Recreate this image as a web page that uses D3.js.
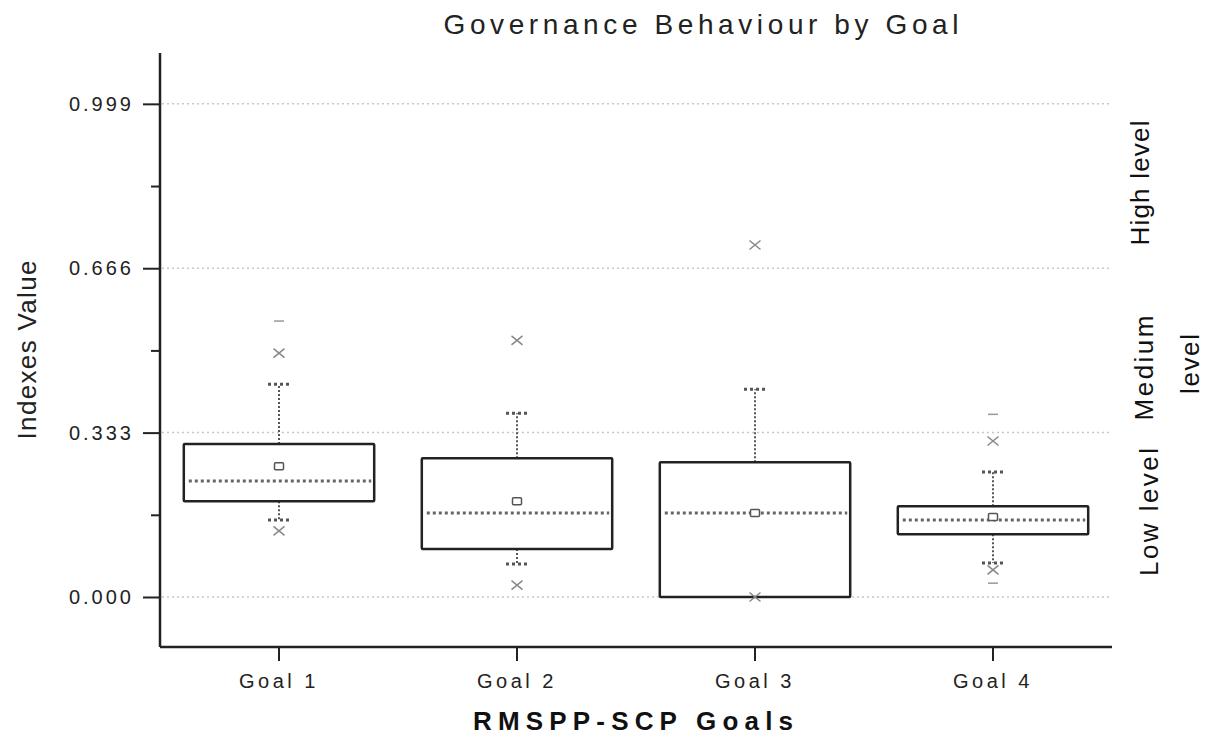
<!DOCTYPE html>
<html>
<head>
<meta charset="utf-8">
<script src="https://cdn.jsdelivr.net/npm/d3@7"></script>
<style>
body{margin:0;background:#fff;}
text{font-family:"Liberation Sans",Arial,sans-serif;}
</style>
</head>
<body>
<div id="chart"></div>
<script>
// donnees
var goals = ["Goal 1","Goal 2","Goal 3","Goal 4"];
var q1 = [0.194, 0.097, 0.000, 0.127];
var median = [0.235, 0.170, 0.170, 0.156];
var q3 = [0.310, 0.281, 0.273, 0.184];
var mean = [0.265, 0.194, 0.170, 0.162];
var whiskLow = [0.156, 0.067, 0.000, 0.069];
var whiskHigh = [0.431, 0.372, 0.421, 0.253];
var p1 = [0.134, 0.024, 0.000, 0.055];
var p99 = [0.494, 0.520, 0.713, 0.316];
var minV = [null, null, null, 0.028];
var maxV = [0.559, null, null, 0.370];
var yTicks = [0, 0.333, 0.666, 0.999];
var yMinor = [0.1665, 0.4995, 0.8325];
var levels = ["High level", "Medium", "level", "Low level"];

var width=1206, height=738;
var svg = d3.select("#chart").append("svg").attr("width",width).attr("height",height);

var x = d3.scaleBand().domain(goals).range([160,1112]).paddingInner(0.2).paddingOuter(0.1);
var y = d3.scaleLinear().domain([-0.1013,1.102]).range([647,53]);
var bw = x.bandwidth();
var cx = function(i){ return x(goals[i])+bw/2; };

// lignes de grille pointillees
svg.append("g").selectAll("line").data(yTicks).enter().append("line")
  .attr("x1",162).attr("x2",1112)
  .attr("y1",function(d){return y(d);}).attr("y2",function(d){return y(d);})
  .attr("stroke","#c8c8c8").attr("stroke-width",1.5).attr("stroke-dasharray","2,3");

// axe y
var yAxis = svg.append("g").attr("transform","translate(160,0)")
  .call(d3.axisLeft(y).tickValues(yTicks).tickFormat(d3.format(".3f")).tickSize(17).tickPadding(9));
svg.append("g").attr("transform","translate(160,0)")
  .call(d3.axisLeft(y).tickValues(yMinor).tickFormat("").tickSize(9))
  .select(".domain").remove();
// axe x
var xAxis = svg.append("g").attr("transform","translate(0,647)")
  .call(d3.axisBottom(x).tickSize(14).tickPadding(8).tickSizeOuter(0));

svg.selectAll(".domain").attr("stroke","#222").attr("stroke-width",2.5);
svg.selectAll(".tick line").attr("stroke","#222").attr("stroke-width",2);
yAxis.selectAll(".domain").attr("d","M0,647V53");
xAxis.select(".domain").attr("d","M160,0H1112");
yAxis.selectAll(".tick text").attr("font-size",20).attr("fill","#222").attr("letter-spacing","3px");
xAxis.selectAll(".tick text").attr("font-size",20).attr("fill","#222").attr("letter-spacing","3.5px").attr("dy","0.95em");

// moustaches
var g = svg.append("g");
goals.forEach(function(name,i){
  var c = cx(i);
  // tiges
  g.append("line").attr("x1",c).attr("x2",c).attr("y1",y(q3[i])).attr("y2",y(whiskHigh[i]))
    .attr("stroke","#555").attr("stroke-width",2).attr("stroke-dasharray","2,2");
  g.append("line").attr("x1",c).attr("x2",c).attr("y1",y(q1[i])).attr("y2",y(whiskLow[i]))
    .attr("stroke","#555").attr("stroke-width",2).attr("stroke-dasharray","2,2");
  // chapeaux
  if(whiskHigh[i]>q3[i]) g.append("line").attr("x1",c-11).attr("x2",c+11).attr("y1",y(whiskHigh[i])).attr("y2",y(whiskHigh[i]))
    .attr("stroke","#555").attr("stroke-width",3).attr("stroke-dasharray","3,3");
  if(whiskLow[i]<q1[i]) g.append("line").attr("x1",c-11).attr("x2",c+11).attr("y1",y(whiskLow[i])).attr("y2",y(whiskLow[i]))
    .attr("stroke","#555").attr("stroke-width",3).attr("stroke-dasharray","3,3");
  // boite
  g.append("rect").attr("x",x(name)).attr("width",bw)
    .attr("y",y(q3[i])).attr("height",y(q1[i])-y(q3[i]))
    .attr("fill","none").attr("stroke","#222").attr("stroke-width",2.5).attr("rx",1);
  // mediane
  g.append("line").attr("x1",x(name)+5).attr("x2",x(name)+bw-3).attr("y1",y(median[i])).attr("y2",y(median[i]))
    .attr("stroke","#666").attr("stroke-width",3).attr("stroke-dasharray","3,3");
  // moyenne
  g.append("rect").attr("x",c-4.5).attr("y",y(mean[i])-3.5).attr("width",9).attr("height",7)
    .attr("fill","#fff").attr("stroke","#555").attr("stroke-width",1.5).attr("rx",1);
  // 1% et 99%
  [p1[i],p99[i]].forEach(function(v){
    var yy=y(v);
    g.append("path").attr("d","M"+(c-5.5)+","+(yy-4.5)+"L"+(c+5.5)+","+(yy+4.5)+"M"+(c-5.5)+","+(yy+4.5)+"L"+(c+5.5)+","+(yy-4.5))
      .attr("stroke","#888").attr("stroke-width",1.5).attr("fill","none");
  });
  // min et max
  [minV[i],maxV[i]].forEach(function(v){
    if(v==null) return;
    g.append("line").attr("x1",c-5).attr("x2",c+5).attr("y1",y(v)).attr("y2",y(v))
      .attr("stroke","#999").attr("stroke-width",1.5);
  });
});

// titres
svg.append("text").attr("x",701).attr("y",34).attr("text-anchor","middle")
  .attr("font-size",28).attr("fill","#222").attr("textLength",515).attr("lengthAdjust","spacing")
  .text("Governance Behaviour by Goal");
svg.append("text").attr("x",633).attr("y",730).attr("text-anchor","middle")
  .attr("font-size",26).attr("font-weight","bold").attr("fill","#111").attr("textLength",320).attr("lengthAdjust","spacing")
  .text("RMSPP-SCP Goals");
svg.append("text").attr("transform","translate(36,350) rotate(-90)").attr("text-anchor","middle")
  .attr("font-size",26).attr("fill","#222").attr("textLength",179).attr("lengthAdjust","spacing")
  .text("Indexes Value");

// niveaux a droite
var lvlPos = [[1149,183,125],[1153,368,105],[1199,364,60],[1158,512,128]];
svg.append("g").selectAll("text").data(levels).enter().append("text")
  .attr("transform",function(d,i){return "translate("+lvlPos[i][0]+","+lvlPos[i][1]+") rotate(-90)";})
  .attr("text-anchor","middle").attr("font-size",26).attr("fill","#111")
  .attr("textLength",function(d,i){return lvlPos[i][2];}).attr("lengthAdjust","spacing")
  .text(function(d){return d;});
</script>
</body>
</html>
